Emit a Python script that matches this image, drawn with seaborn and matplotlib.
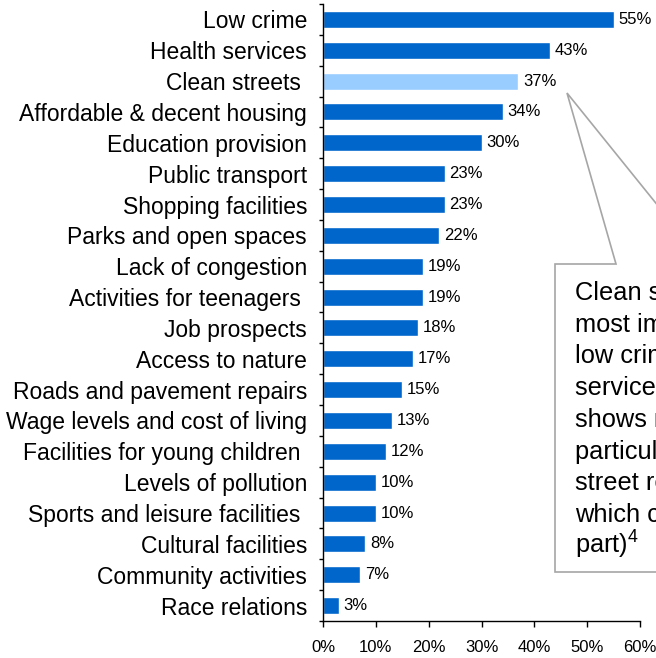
import matplotlib
matplotlib.use("Agg")
import matplotlib.pyplot as plt
import seaborn as sns
from matplotlib.patches import Polygon
from matplotlib.ticker import FixedLocator, PercentFormatter

# values
categories = [
    "Low crime", "Health services", "Clean streets ", "Affordable & decent housing",
    "Education provision", "Public transport", "Shopping facilities",
    "Parks and open spaces", "Lack of congestion", "Activities for teenagers ",
    "Job prospects", "Access to nature", "Roads and pavement repairs",
    "Wage levels and cost of living", "Facilities for young children ",
    "Levels of pollution", "Sports and leisure facilities ", "Cultural facilities",
    "Community activities", "Race relations",
]
values = [55, 43, 37, 34, 30, 23, 23, 22, 19, 19, 18, 17, 15, 13, 12, 10, 10, 8, 7, 3]
highlight = "Clean streets "

# the note is cropped by the right edge of the original picture
callout_lines = [
    "Clean streets is the third",
    "most important factor after",
    "low crime and health",
    "services. Research also",
    "shows residents are",
    "particularly concerned about",
    "street repairs and cleaning",
    "which council is doing its",
    "part)$^{4}$",
]

DARK = "#0066CC"
LIGHT = "#99CCFF"

sns.set_theme(style="ticks")
plt.rcParams["font.family"] = ["Liberation Sans", "DejaVu Sans"]
plt.rcParams["mathtext.fontset"] = "custom"
plt.rcParams["mathtext.rm"] = "Liberation Sans"
plt.rcParams["mathtext.default"] = "rm"

W, H = 656, 658
fig = plt.figure(figsize=(W / 100, H / 100), dpi=100)
ax = fig.add_axes([323 / W, 1 - 621 / H, (640 - 323) / W, (621 - 4) / H])

palette = [LIGHT if c == highlight else DARK for c in categories]
sns.barplot(x=values, y=categories, hue=categories, palette=palette,
            width=0.55, legend=False, ax=ax, saturation=1)

for i, v in enumerate(values):
    ax.text(v + 0.9, i, f"{v}%", va="center", ha="left", fontsize=12, color="black")

ax.set_xlim(0, 60)
ax.set_ylim(19.5, -0.5)
ax.set_xticks(range(0, 61, 10))
ax.xaxis.set_major_formatter(PercentFormatter(decimals=0))
ax.set_xlabel("")
ax.set_ylabel("")

ax.yaxis.set_minor_locator(FixedLocator([k - 0.5 for k in range(len(categories) + 1)]))
ax.tick_params(axis="y", which="major", length=0, pad=11.5, labelsize=16.5, colors="black")
ax.tick_params(axis="y", which="minor", length=3, width=1, color="black")
ax.tick_params(axis="x", which="major", length=4, width=1, pad=10, labelsize=12,
               colors="black")
sns.despine(ax=ax)
for s in ("left", "bottom"):
    ax.spines[s].set_color("black")
    ax.spines[s].set_linewidth(1)

# callout box with pointer to the Clean streets bar
def f(px, py):
    return (px / W, 1 - py / H)

pts = [f(555, 264), f(616, 264), f(567, 93), f(705, 264), f(760, 264),
       f(760, 572), f(555, 572)]
fig.add_artist(Polygon(pts, closed=True, transform=fig.transFigure,
                       facecolor="white", edgecolor="#A6A6A6", linewidth=1.2))

for j, line in enumerate(callout_lines):
    x0, y0 = f(575, 300 + j * 31.7)
    fig.text(x0, y0, line, ha="left", va="baseline", fontsize=18.3, color="black")

fig.savefig("out.png", dpi=100)
